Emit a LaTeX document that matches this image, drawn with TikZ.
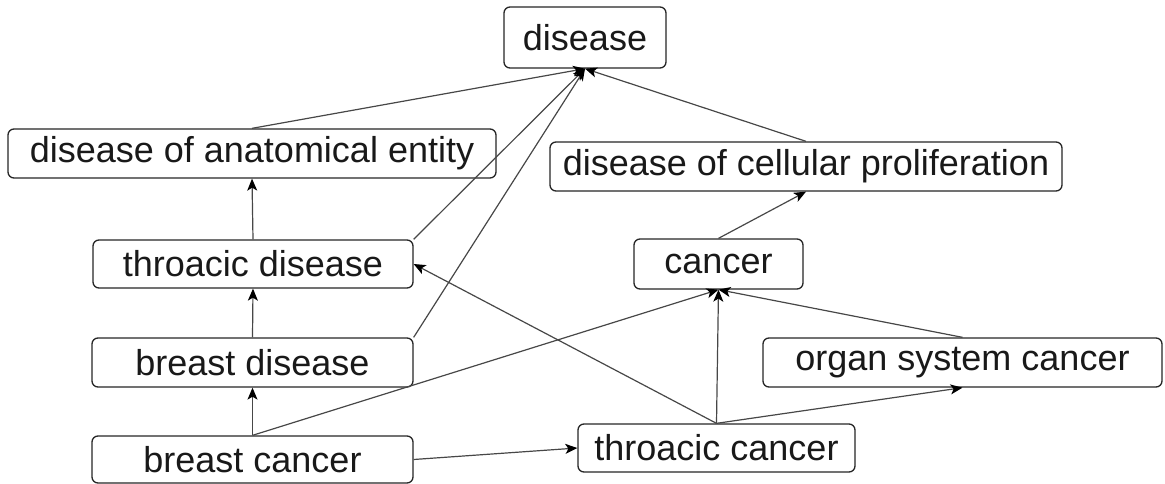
\documentclass[tikz,border=0pt]{standalone}
\usepackage{fontspec}
\setmainfont{Liberation Sans}
\usetikzlibrary{arrows.meta}
\begin{document}
\begin{tikzpicture}[x=1pt, y=-1pt,
  term/.style={draw=black!85, line width=1.3pt, rounded corners=6pt, fill=white,
    inner sep=0pt, font=\fontsize{36}{43}\selectfont, text=black!90},
  isa/.style={draw=black!72, line width=1.2pt,
    -{Stealth[length=12pt,width=10pt,inset=3pt,color=black]}}]
\useasboundingbox (0,0) rectangle (1165,484);

\node[term, minimum width=162pt, minimum height=61pt] (dis) at (585,37.5) {disease};
\node[term, minimum width=488pt, minimum height=49pt] (dae) at (252,153.5) {disease of anatomical entity};
\node[term, minimum width=512pt, minimum height=49pt] (dcp) at (806,166.5) {disease of cellular proliferation};
\node[term, minimum width=320pt, minimum height=48pt] (td) at (253,264) {throacic disease};
\node[term, minimum width=169pt, minimum height=50pt] (can) at (718.5,264) {cancer};
\node[term, minimum width=321pt, minimum height=49pt] (bd) at (252.5,362.5) {breast disease};
\node[term, minimum width=399pt, minimum height=49pt] (osc) at (962.5,362.5) {organ system cancer};
\node[term, minimum width=321pt, minimum height=47pt] (bc) at (252.5,459.5) {breast cancer};
\node[term, minimum width=277pt, minimum height=48pt] (tc) at (716.5,448) {throacic cancer};

% subclass links
\draw[isa] (dae.north) -- (dis.south);
\draw[isa] (td.north east) -- (dis.south);
\draw[isa] (bd.north east) -- (dis.south);
\draw[isa] (dcp.north) -- (dis.south);
\draw[isa] (can.north) -- (dcp.south);
\draw[isa] (td.north) -- (dae.south);
\draw[isa] (bd.north) -- (td.south);
\draw[isa] (bc.north) -- (bd.south);
\draw[isa] (bc.north) -- (can.south);
\draw[isa] (tc.north) -- (can.south);
\draw[isa] (osc.north) -- (can.south);
\draw[isa] (tc.north) -- (td.east);
\draw[isa] (tc.north) -- (osc.south);
\draw[isa] (bc.east) -- (tc.west);
\end{tikzpicture}
\end{document}
